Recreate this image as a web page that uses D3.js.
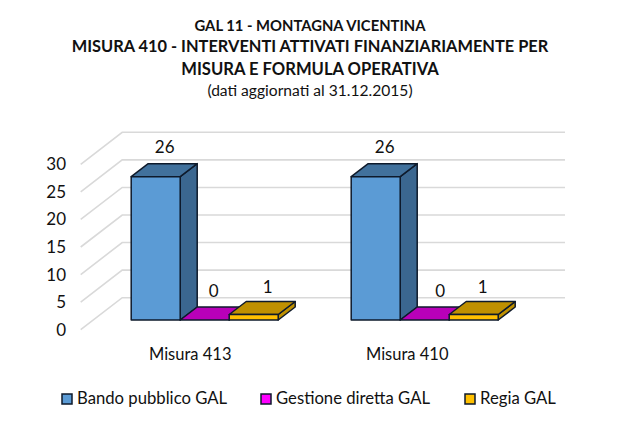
<!DOCTYPE html>
<html>
<head>
<meta charset="utf-8">
<script src="https://cdn.jsdelivr.net/npm/d3@7"></script>
<style>
    body { margin: 0; background: #fff; }
    svg { display: block; }
    text { font-family: Lato, "Open Sans", sans-serif; fill: #111; }
</style>
</head>
<body>
<div id="chart"></div>
<script>
// chart values
var categories = ["Misura 413", "Misura 410"];
var seriesNames = ["Bando pubblico GAL", "Gestione diretta GAL", "Regia GAL"];
var bandoValues = [26, 26];
var gestioneValues = [0, 0];
var regiaValues = [1, 1];
var yTicks = [0, 5, 10, 15, 20, 25, 30];
var titleLines = [
    "GAL 11 - MONTAGNA VICENTINA",
    "MISURA 410 - INTERVENTI ATTIVATI FINANZIARIAMENTE PER",
    "MISURA E FORMULA OPERATIVA",
    "(dati aggiornati al 31.12.2015)"
];

var width = 621, height = 429;

// fake 3d: the wall sits behind the front plane, bars sit in between
var wallDx = 41.5, wallDy = 32,
    barDx = 17, barDy = 13,
    barShift = 22.3;

var colors = [
    {front: "#5b9bd5", top: "#41719c", side: "#3b6790", legend: "#5b9bd5"},
    {front: "#cc00cc", top: "#b900b9", side: "#a000a0", legend: "#ff00ff"},
    {front: "#ffc000", top: "#bf9000", side: "#bf9000", legend: "#ffc000"}
];
var outline = "#0e1a2b";

var svg = d3.select("#chart").append("svg")
    .attr("width", width)
    .attr("height", height);

svg.append("rect").attr("width", width).attr("height", height).attr("fill", "#fff");

// title
var titleBase = [31, 52, 75, 96],
    titleSize = [14.8, 16.4, 16.6, 15.6];
svg.selectAll(".title")
    .data(titleLines)
    .enter().append("text")
    .attr("class", "title")
    .attr("x", 310)
    .attr("y", function (d, i) { return titleBase[i]; })
    .attr("text-anchor", "middle")
    .style("font-size", function (d, i) { return titleSize[i] + "px"; })
    .style("font-weight", function (d, i) { return i < 3 ? 700 : 400; })
    .text(function (d) { return d; });

// scales
var y = d3.scaleLinear().domain([0, 30]).range([297.7, 132.3]);
var x = d3.scaleBand().domain(categories).range([94.7, 534.7]);
var xSeries = d3.scaleBand().domain(seriesNames).range([-73.5, 73.5]);

// walls
var wallLeft = 122.2, wallRight = 565;
var grid = svg.append("g").attr("fill", "none").attr("stroke", "#d9d9d9").attr("stroke-width", 1.6);
grid.selectAll(".back")
    .data(yTicks)
    .enter().append("path")
    .attr("class", "back")
    .attr("d", function (d) {
        return "M" + (wallLeft - wallDx) + "," + (y(d) + wallDy) +
            "L" + wallLeft + "," + y(d) +
            "L" + wallRight + "," + y(d);
    });

// y axis sits on the front edge of the left wall
var yAxis = d3.axisLeft(y).tickValues(yTicks).tickSize(0).tickPadding(0);
var yg = svg.append("g")
    .attr("transform", "translate(66," + wallDy + ")")
    .call(yAxis);
yg.select(".domain").remove();
yg.selectAll("text").style("font-size", "17px").style("font-family", "Lato, sans-serif");

// bars
var rows = [];
categories.forEach(function (c, ci) {
    [bandoValues, gestioneValues, regiaValues].forEach(function (vals, si) {
        rows.push({category: c, ci: ci, si: si, name: seriesNames[si], value: vals[ci]});
    });
});

function barX(d) {
    return x(d.category) + x.bandwidth() / 2 + xSeries(d.name);
}

var bars = svg.selectAll(".bar")
    .data(rows)
    .enter().append("g")
    .attr("class", "bar")
    .attr("stroke", outline)
    .attr("stroke-width", 1.5)
    .attr("stroke-linejoin", "round");

// side first, then top, then front
bars.append("path")
    .attr("fill", function (d) { return colors[d.si].side; })
    .attr("d", function (d) {
        var x1 = barX(d) + xSeries.bandwidth(),
            t = y(d.value) + barShift, b = y(0) + barShift;
        return "M" + x1 + "," + t + "L" + (x1 + barDx) + "," + (t - barDy) +
            "L" + (x1 + barDx) + "," + (b - barDy) + "L" + x1 + "," + b + "Z";
    });
bars.append("path")
    .attr("fill", function (d) { return colors[d.si].top; })
    .attr("d", function (d) {
        var x0 = barX(d), x1 = x0 + xSeries.bandwidth(),
            t = y(d.value) + barShift;
        return "M" + x0 + "," + t + "L" + (x0 + barDx) + "," + (t - barDy) +
            "L" + (x1 + barDx) + "," + (t - barDy) + "L" + x1 + "," + t + "Z";
    });
bars.append("rect")
    .attr("fill", function (d) { return colors[d.si].front; })
    .attr("x", barX)
    .attr("y", function (d) { return y(d.value) + barShift; })
    .attr("width", xSeries.bandwidth())
    .attr("height", function (d) { return y(0) - y(d.value); });

// the value labels were placed by hand in the original
var labelNudge = [
    [{x: 9, y: 24}, {x: 9, y: 23}, {x: 14, y: 21.5}],
    [{x: 9, y: 24}, {x: 15.5, y: 23}, {x: 9, y: 21.5}]
];
svg.selectAll(".value")
    .data(rows)
    .enter().append("text")
    .attr("class", "value")
    .attr("text-anchor", "middle")
    .attr("x", function (d) { return barX(d) + xSeries.bandwidth() / 2 + labelNudge[d.ci][d.si].x; })
    .attr("y", function (d) { return y(d.value) - labelNudge[d.ci][d.si].y + barShift; })
    .style("font-size", "17px")
    .text(function (d) { return d.value; });

// category labels
var catLabelX = {"Misura 413": -14.5, "Misura 410": -17.5};
svg.selectAll(".cat")
    .data(categories)
    .enter().append("text")
    .attr("class", "cat")
    .attr("text-anchor", "middle")
    .attr("x", function (d) { return x(d) + x.bandwidth() / 2 + catLabelX[d]; })
    .attr("y", 360)
    .style("font-size", "16.5px")
    .text(function (d) { return d; });

// legend
var legendX = [62, 261, 465];
var legend = svg.selectAll(".legend")
    .data(seriesNames)
    .enter().append("g")
    .attr("class", "legend")
    .attr("transform", function (d, i) { return "translate(" + legendX[i] + ",394)"; });
legend.append("rect")
    .attr("width", 10)
    .attr("height", 10)
    .attr("fill", function (d, i) { return colors[i].legend; })
    .attr("stroke", outline)
    .attr("stroke-width", 1.5);
legend.append("text")
    .attr("x", 15)
    .attr("y", 9.5)
    .style("font-size", "16.7px")
    .text(function (d) { return d; });
</script>
</body>
</html>
